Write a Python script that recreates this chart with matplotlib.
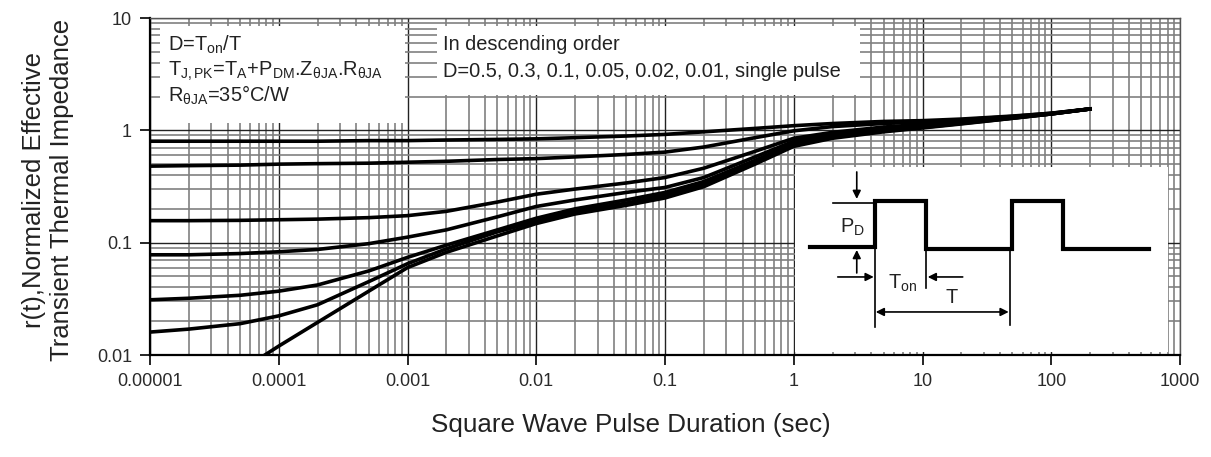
import matplotlib
matplotlib.use("Agg")
import matplotlib.pyplot as plt
from matplotlib.patches import Rectangle
from matplotlib.ticker import LogLocator, FixedLocator, NullFormatter

plt.rcParams['font.family'] = ['Liberation Sans', 'DejaVu Sans']
plt.rcParams['mathtext.fontset'] = 'custom'
plt.rcParams['mathtext.rm'] = 'Liberation Sans'
plt.rcParams['mathtext.it'] = 'Liberation Sans'

# pulse duration (sec)
t = [1e-5, 2e-5, 5e-5, 1e-4, 2e-4, 5e-4, 1e-3, 2e-3, 5e-3, 1e-2, 2e-2, 5e-2,
     0.1, 0.2, 0.5, 1, 2, 5, 10, 20, 50, 100, 200]
t_single = [7.8e-5, 1e-4, 2e-4, 5e-4, 1e-3, 2e-3, 5e-3, 1e-2, 2e-2, 5e-2,
            0.1, 0.2, 0.5, 1, 2, 5, 10, 20, 50, 100, 200]

# normalized transient thermal impedance, one list per duty cycle
r_d050 = [0.80, 0.80, 0.80, 0.80, 0.80, 0.81, 0.81, 0.82, 0.83, 0.84, 0.86, 0.89,
          0.92, 0.97, 1.04, 1.10, 1.15, 1.20, 1.22, 1.26, 1.34, 1.42, 1.55]
r_d030 = [0.48, 0.485, 0.49, 0.50, 0.505, 0.51, 0.52, 0.53, 0.55, 0.56, 0.58, 0.61,
          0.64, 0.71, 0.86, 0.99, 1.08, 1.15, 1.19, 1.24, 1.33, 1.42, 1.55]
r_d010 = [0.157, 0.157, 0.158, 0.160, 0.162, 0.167, 0.174, 0.19, 0.23, 0.27, 0.30, 0.34,
          0.38, 0.46, 0.65, 0.85, 0.96, 1.07, 1.13, 1.20, 1.31, 1.41, 1.55]
r_d005 = [0.078, 0.078, 0.080, 0.083, 0.087, 0.098, 0.112, 0.13, 0.17, 0.21, 0.24, 0.28,
          0.31, 0.38, 0.58, 0.80, 0.92, 1.03, 1.10, 1.18, 1.30, 1.40, 1.55]
r_d002 = [0.031, 0.032, 0.034, 0.037, 0.042, 0.056, 0.074, 0.095, 0.13, 0.165, 0.20, 0.24,
          0.28, 0.35, 0.54, 0.76, 0.88, 1.00, 1.07, 1.16, 1.29, 1.40, 1.55]
r_d001 = [0.016, 0.017, 0.019, 0.0223, 0.028, 0.045, 0.065, 0.088, 0.125, 0.155, 0.19, 0.225,
          0.265, 0.33, 0.52, 0.74, 0.87, 0.99, 1.06, 1.15, 1.28, 1.40, 1.55]
r_single = [0.010, 0.012, 0.0195, 0.037, 0.060, 0.082, 0.115, 0.148, 0.18, 0.215,
            0.25, 0.315, 0.50, 0.72, 0.85, 0.97, 1.05, 1.14, 1.28, 1.40, 1.55]

x_ticks = [1e-5, 1e-4, 1e-3, 1e-2, 1e-1, 1, 10, 100, 1000]
x_labels = ['0.00001', '0.0001', '0.001', '0.01', '0.1', '1', '10', '100', '1000']
y_ticks = [0.01, 0.1, 1, 10]
y_labels = ['0.01', '0.1', '1', '10']

fig = plt.figure(figsize=(12.11, 4.57), dpi=100)
ax = fig.add_axes([150 / 1211, 1 - 355 / 457, 1030 / 1211, 337 / 457])
ax.set_xscale('log')
ax.set_yscale('log')
ax.set_xlim(1e-5, 1000)
ax.set_ylim(0.01, 10)

ax.xaxis.set_major_locator(FixedLocator(x_ticks))
ax.set_xticklabels(x_labels)
ax.yaxis.set_major_locator(FixedLocator(y_ticks))
ax.set_yticklabels(y_labels)
ax.xaxis.set_minor_locator(LogLocator(base=10, subs=range(2, 10), numticks=20))
ax.yaxis.set_minor_locator(LogLocator(base=10, subs=range(2, 10), numticks=20))
ax.xaxis.set_minor_formatter(NullFormatter())
ax.yaxis.set_minor_formatter(NullFormatter())

ax.grid(True, which='major', color='#222222', lw=1.0)
ax.grid(True, which='minor', color='#808080', lw=1.2)
ax.tick_params(which='major', length=7, width=1.2, color='black',
               labelsize=13, labelcolor='#2a2a2a', pad=6)
ax.tick_params(which='minor', length=0)
for s in ['top', 'right']:
    ax.spines[s].set_color('#555555')
    ax.spines[s].set_linewidth(1.0)
for s in ['left', 'bottom']:
    ax.spines[s].set_color('black')
    ax.spines[s].set_linewidth(1.6)
ax.set_axisbelow(True)

# white boxes covering the grid
for (bx, by, bw, bh) in [(0.0097, 0.688, 0.238, 0.288),
                         (0.2786, 0.772, 0.411, 0.204),
                         (0.626, 0.009, 0.362, 0.549)]:
    ax.add_patch(Rectangle((bx, by), bw, bh, transform=ax.transAxes,
                           facecolor='white', edgecolor='none', zorder=1.5))

for r in [r_d050, r_d030, r_d010, r_d005, r_d002, r_d001]:
    ax.plot(t, r, color='black', lw=2.6, zorder=3, solid_joinstyle='round')
ax.plot(t_single, r_single, color='black', lw=2.6, zorder=3, solid_joinstyle='round')

# annotations
fs = 14.4
ax.text(0.0175, 0.92, r'D=T$_{\mathrm{on}}$/T', transform=ax.transAxes,
        fontsize=fs, va='center', zorder=4, color='#222222')
ax.text(0.0175, 0.843,
        r'T$_{\mathrm{J,PK}}$=T$_{\mathrm{A}}$+P$_{\mathrm{DM}}$.Z$_{\mathrm{θJA}}$.R$_{\mathrm{θJA}}$',
        transform=ax.transAxes, fontsize=fs, va='center', zorder=4, color='#222222')
ax.text(0.0175, 0.769, r'R$_{\mathrm{θJA}}$=35°C/W', transform=ax.transAxes,
        fontsize=fs, va='center', zorder=4, color='#222222')
ax.text(0.2845, 0.92, 'In descending order', transform=ax.transAxes,
        fontsize=fs, va='center', zorder=4, color='#222222')
ax.text(0.2845, 0.84, 'D=0.5, 0.3, 0.1, 0.05, 0.02, 0.01, single pulse',
        transform=ax.transAxes, fontsize=fs, va='center', zorder=4, color='#222222')

# inset: square wave sketch (inset drawn in its own pixel-like coordinates)
ins = ax.inset_axes([0.626, 0.009, 0.362, 0.549], zorder=4)
ins.set_xlim(795, 1168)
ins.set_ylim(352, 167)
ins.patch.set_alpha(0)
ins.set_xticks([])
ins.set_yticks([])
for s in ins.spines.values():
    s.set_visible(False)

wave_x = [810, 875, 875, 926, 926, 1012, 1012, 1063, 1063, 1149]
wave_y = [247, 247, 201, 201, 249, 249, 201, 201, 249, 249]
ins.plot(wave_x, wave_y, color='black', lw=3, solid_joinstyle='miter')
ins.plot([833, 875], [203, 203], color='black', lw=1.2)
ins.plot([875, 875], [247, 327], color='black', lw=1.2)
ins.plot([926, 926], [249, 288], color='black', lw=1.2)
ins.plot([1010, 1010], [249, 325], color='black', lw=1.2)
arrow = dict(arrowstyle='-|>', color='black', lw=1.2, mutation_scale=12,
             shrinkA=0, shrinkB=0)
ins.annotate('', xy=(857, 199), xytext=(857, 172), arrowprops=arrow)
ins.annotate('', xy=(857, 250), xytext=(857, 273), arrowprops=arrow)
ins.annotate('', xy=(874, 277), xytext=(838, 277), arrowprops=arrow)
ins.annotate('', xy=(928, 277), xytext=(963, 277), arrowprops=arrow)
ins.annotate('', xy=(1009, 312), xytext=(876, 312),
             arrowprops=dict(arrowstyle='<|-|>', color='black', lw=1.2,
                             mutation_scale=12, shrinkA=0, shrinkB=0))
ins.text(853, 227, r'P$_{\mathrm{D}}$', fontsize=14.4, ha='center', va='center', color='#222222')
ins.text(903, 283, r'T$_{\mathrm{on}}$', fontsize=14.4, ha='center', va='center', color='#222222')
ins.text(952, 298, 'T', fontsize=14.4, ha='center', va='center', color='#222222')

fig.text(48 / 1211, 1 - 190 / 457, 'r(t),Normalized Effective\nTransient Thermal Impedance',
         rotation=90, ha='center', va='center', multialignment='center',
         fontsize=18.5, color='#222222', linespacing=1.2)
fig.text(631 / 1211, 1 - 425 / 457, 'Square Wave Pulse Duration (sec)',
         ha='center', va='center', fontsize=18.7, color='#222222')

plt.savefig('out.png', dpi=100)
